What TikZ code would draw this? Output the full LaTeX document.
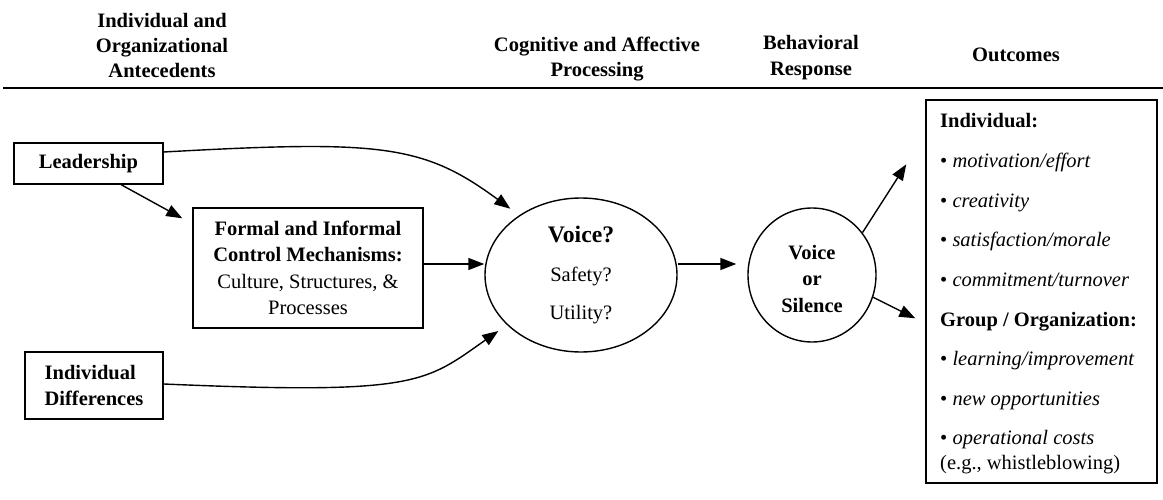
\documentclass[tikz,border=0pt]{standalone}
\usepackage{fontspec}
\setmainfont{Liberation Serif}
\usetikzlibrary{arrows.meta,calc,shapes.geometric}
\begin{document}
\begin{tikzpicture}[x=1pt,y=1pt,
  every node/.style={font=\fontsize{20.5}{26.5}\selectfont},
  hdr/.style={font=\fontsize{20.5}{25}\selectfont\bfseries, anchor=base, inner sep=0pt},
  box/.style={draw, line width=1.4pt, inner sep=0pt},
  arr/.style={line width=1.4pt, -{Triangle[length=16pt,width=12pt]}},
  item/.style={anchor=base west, inner sep=0pt}
]
\useasboundingbox (0,0) rectangle (1163,-500);

% headers
\node[hdr] (h1a) at (162,-28) {Individual and};
\node[hdr] (h1b) at (162,-52.5) {Organizational};
\node[hdr] (h1c) at (162,-78) {Antecedents};
\node[hdr] (h2a) at (597,-52) {Cognitive and Affective};
\node[hdr] (h2b) at (597,-77) {Processing};
\node[hdr] (h3a) at (811,-49.5) {Behavioral};
\node[hdr] (h3b) at (811,-75.5) {Response};
\node[hdr] (h4) at (1016,-62) {Outcomes};
\draw[line width=1.6pt] (3,-88) -- (1163,-88);

% boxes
\node[box, minimum width=149pt, minimum height=41pt,
      font=\fontsize{20.5}{26.5}\selectfont\bfseries] (lead) at (88.5,-163.5) {Leadership};
\node[box, minimum width=230pt, minimum height=120pt, align=center] (formal) at (308,-268)
  {\textbf{Formal and Informal}\\\textbf{Control Mechanisms:}\\Culture, Structures, \&\\Processes};
\node[box, minimum width=138pt, minimum height=67pt, align=left,
      font=\fontsize{20.5}{26.5}\selectfont\bfseries] (indiv) at (94,-385.5) {Individual\\Differences};

% ellipses
\node[draw, ellipse, line width=1.4pt, minimum width=192pt, minimum height=154pt, inner sep=0pt,
      align=center, font=\fontsize{20.5}{38.5}\selectfont] (voice) at (581,-275)
  {{\fontsize{23.7}{38.5}\selectfont\bfseries Voice?}\\Safety?\\Utility?};
\node[draw, ellipse, line width=1.4pt, minimum width=128pt, minimum height=134pt, inner sep=0pt,
      align=center, font=\fontsize{20.5}{26.5}\selectfont\bfseries] (resp) at (812,-275)
  {\rule{0pt}{21.5pt}Voice\\or\\Silence};

% outcomes box
\node[box, minimum width=231pt, minimum height=383pt] (out) at (1041.5,-291.5) {};
\node[item] (o1) at (940,-128) {\textbf{Individual:}};
\node[item] (o2) at (940,-167.6) {\textbullet\ \textit{motivation/effort}};
\node[item] (o3) at (940,-207.2) {\textbullet\ \textit{creativity}};
\node[item] (o4) at (940,-246.8) {\textbullet\ \textit{satisfaction/morale}};
\node[item] (o5) at (940,-286.4) {\textbullet\ \textit{commitment/turnover}};
\node[item] (o6) at (940,-326) {\textbf{Group / Organization:}};
\node[item] (o7) at (940,-365.6) {\textbullet\ \textit{learning/improvement}};
\node[item] (o8) at (940,-405.2) {\textbullet\ \textit{new opportunities}};
\node[item] (o9) at (940,-444.8) {\textbullet\ \textit{operational costs}};
\node[item] (o10) at (940,-469.5) {(e.g., whistleblowing)};

% connectors
\draw[arr] (lead.-33) -- ($(formal.north west)+(-10,-11)$);
\draw[arr, shorten >=11pt] ([yshift=11.5pt]lead.east)
  .. controls +(217,12) and +(-96,71) .. (voice.136);
\draw[arr, shorten >=10.5pt] ([yshift=1.5pt]indiv.east)
  .. controls +(255,-11) and +(-82,-57.5) .. (voice.214);
\draw[arr] ([yshift=4pt]formal.east) -- ([yshift=11pt]voice.west);
\draw[arr, shorten >=11pt] ([yshift=11pt]voice.east) -- ([yshift=11pt]resp.west);
\draw[arr] (resp.40) -- ($(out.north west)+(-19,-65)$);
\draw[arr] (resp.-20) -- ($(out.north west)+(-10,-219)$);
\end{tikzpicture}
\end{document}
